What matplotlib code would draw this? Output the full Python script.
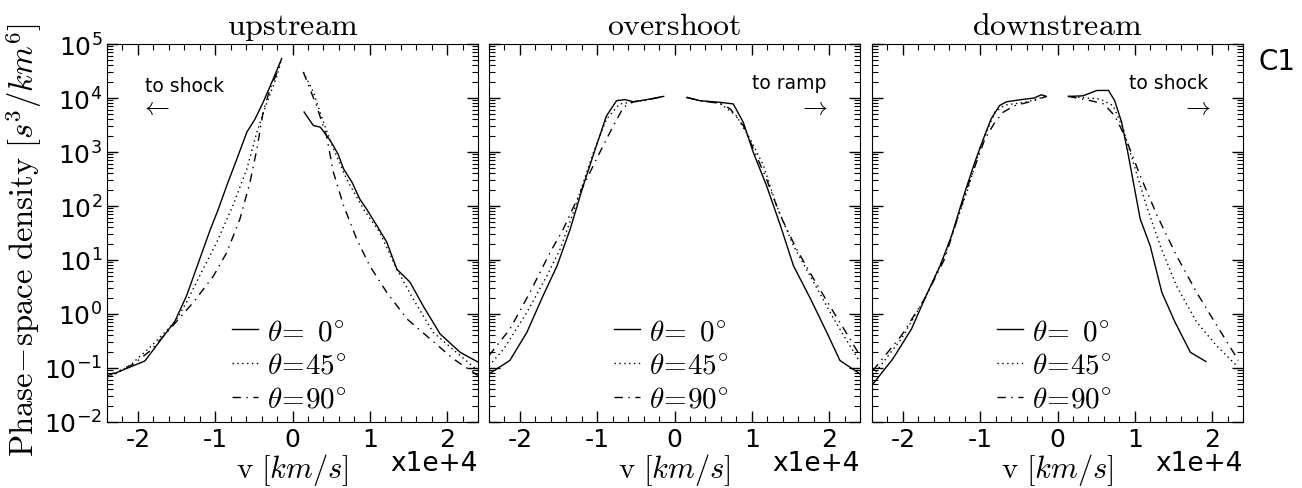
import matplotlib
matplotlib.use('Agg')
import matplotlib.pyplot as plt
import numpy as np
from matplotlib.font_manager import FontProperties
from matplotlib.ticker import MultipleLocator, LogLocator, NullFormatter

# velocity in units of 1e4 km/s, density as log10 values
# --- upstream ---
up_v0 = [-2.3, -1.91, -1.52, -1.37, -1.20, -1.07, -0.96, -0.85, -0.72, -0.59, -0.485, -0.38, -0.25, -0.14,
         None,
         0.15, 0.27, 0.36, 0.49, 0.59, 0.66, 0.77, 0.87, 0.96, 1.09, 1.22, 1.35, 1.52, 1.69, 1.91, 2.17, 2.40]
up_f0 = [-1.1, -0.87, -0.13, 0.34, 1.02, 1.54, 1.94, 2.38, 2.87, 3.37, 3.61, 3.92, 4.35, 4.73,
         None,
         3.74, 3.49, 3.46, 3.21, 2.96, 2.69, 2.44, 2.13, 1.94, 1.64, 1.33, 0.83, 0.59, 0.15, -0.37, -0.71, -0.89]
up_v45 = [-2.4, -2.1, -1.84, -1.52, -1.37, -1.20, -0.98, -0.77, -0.59, -0.46, -0.33, -0.20, -0.14,
          None,
          0.14, 0.27, 0.40, 0.53, 0.70, 0.92, 1.13, 1.35, 1.56, 1.82, 2.12, 2.40]
up_f45 = [-1.2, -0.95, -0.61, -0.15, 0.22, 0.71, 1.33, 2.01, 2.69, 3.37, 3.92, 4.41, 4.73,
          None,
          4.48, 4.11, 3.55, 3.06, 2.50, 1.94, 1.51, 0.83, 0.28, -0.34, -0.71, -1.05]
up_v90 = [-2.4, -2.06, -1.84, -1.55, -1.28, -1.02, -0.85, -0.68, -0.55, -0.46, -0.38, -0.29, -0.16,
          None,
          0.14, 0.31, 0.44, 0.53, 0.66, 0.83, 1.00, 1.22, 1.48, 1.78, 2.08, 2.40]
up_f90 = [-1.15, -0.93, -0.68, -0.22, 0.22, 0.71, 1.14, 1.76, 2.44, 3.06, 3.74, 4.17, 4.60,
          None,
          4.48, 3.86, 3.30, 2.62, 2.01, 1.39, 0.89, 0.40, -0.09, -0.46, -0.83, -1.14]

# --- overshoot ---
ov_v0 = [-2.4, -2.13, -1.91, -1.70, -1.52, -1.35, -1.18, -1.01, -0.88, -0.75, -0.64, -0.53, -0.36, -0.14,
         None,
         0.16, 0.33, 0.59, 0.76, 0.89, 1.02, 1.19, 1.37, 1.54, 1.76, 1.97, 2.14, 2.40]
ov_f0 = [-1.11, -0.86, -0.34, 0.34, 0.89, 1.57, 2.38, 3.12, 3.67, 3.95, 3.97, 3.93, 3.97, 4.03,
         None,
         4.01, 3.95, 3.92, 3.89, 3.55, 2.99, 2.38, 1.64, 0.89, 0.28, -0.34, -0.86, -1.11]
ov_v45 = [-2.4, -2.21, -1.91, -1.65, -1.48, -1.31, -1.05, -0.88, -0.71, -0.53, -0.36, -0.14,
          None,
          0.16, 0.33, 0.59, 0.80, 0.98, 1.15, 1.32, 1.54, 1.80, 2.06, 2.27, 2.40]
ov_f45 = [-0.96, -0.65, 0.03, 0.71, 1.20, 1.88, 2.99, 3.61, 3.89, 3.93, 3.96, 4.03,
          None,
          4.01, 3.95, 3.90, 3.67, 3.24, 2.75, 2.01, 1.26, 0.59, -0.09, -0.59, -0.89]
ov_v90 = [-2.4, -2.13, -1.87, -1.61, -1.44, -1.22, -1.01, -0.79, -0.66, -0.53, -0.36, -0.14,
          None,
          0.16, 0.33, 0.59, 0.72, 0.89, 1.02, 1.19, 1.37, 1.58, 1.80, 2.06, 2.27, 2.40]
ov_f90 = [-0.77, -0.28, 0.40, 1.14, 1.57, 2.25, 2.87, 3.49, 3.83, 3.93, 3.96, 4.03,
          None,
          4.01, 3.95, 3.90, 3.80, 3.49, 3.06, 2.50, 1.82, 1.20, 0.65, 0.03, -0.46, -0.77]

# --- downstream ---
dn_v0 = [-2.39, -2.13, -1.89, -1.70, -1.52, -1.37, -1.20, -1.07, -0.96, -0.86, -0.75, -0.66, -0.47, -0.30, -0.21, -0.145,
         None,
         0.14, 0.33, 0.51, 0.66, 0.74, 0.83, 0.91, 1.07, 1.20, 1.35, 1.52, 1.72, 1.92]
dn_f0 = [-1.3, -0.83, -0.28, 0.34, 0.89, 1.45, 2.25, 2.81, 3.24, 3.61, 3.86, 3.93, 3.97, 4.00, 4.06, 4.03,
         None,
         4.03, 4.04, 4.14, 4.14, 3.95, 3.55, 2.99, 1.76, 1.26, 0.40, -0.15, -0.71, -0.88]
dn_v45 = [-2.39, -2.02, -1.72, -1.46, -1.16, -0.99, -0.81, -0.68, -0.42, -0.145,
          None,
          0.14, 0.55, 0.72, 0.85, 0.98, 1.15, 1.33, 1.54, 1.80, 2.06, 2.32]
dn_f45 = [-1.14, -0.46, 0.28, 1.08, 2.31, 3.12, 3.74, 3.87, 3.92, 4.03,
          None,
          4.03, 3.98, 3.86, 3.43, 2.81, 2.01, 1.26, 0.52, -0.15, -0.59, -0.96]
dn_v90 = [-2.39, -2.02, -1.72, -1.46, -1.16, -0.94, -0.81, -0.70, -0.55, -0.30, -0.145,
          None,
          0.14, 0.43, 0.60, 0.74, 0.87, 1.07, 1.29, 1.54, 1.80, 2.06, 2.34]
dn_f90 = [-1.05, -0.40, 0.28, 1.02, 2.37, 3.24, 3.55, 3.74, 3.86, 3.95, 4.03,
          None,
          4.03, 3.95, 3.89, 3.67, 3.30, 2.56, 1.82, 1.08, 0.40, -0.21, -0.86]

titles = ['upstream', 'overshoot', 'downstream']
labels = [r'$\theta\!=\ 0^{\circ}$', r'$\theta\!=\!45^{\circ}$', r'$\theta\!=\!90^{\circ}$']
notes = [('to shock', r'$\leftarrow$'), ('to ramp', r'$\rightarrow$'), ('to shock', r'$\rightarrow$')]


def arr(v):
    return np.array([np.nan if a is None else a for a in v], dtype=float)


panels = [
    [(up_v0, up_f0), (up_v45, up_f45), (up_v90, up_f90)],
    [(ov_v0, ov_f0), (ov_v45, ov_f45), (ov_v90, ov_f90)],
    [(dn_v0, dn_f0), (dn_v45, dn_f45), (dn_v90, dn_f90)],
]
styles = ['-', (0, (1, 2.5)), (0, (6, 4, 1, 4))]

fig = plt.figure(figsize=(13.02, 4.89), dpi=100)
lefts = [107, 489, 872]
W, H = 1302., 489.
axes = []
for i, l in enumerate(lefts):
    ax = fig.add_axes([l / W, (489 - 423) / H, 371 / W, 378 / H])
    axes.append(ax)
    for (v, f), ls in zip(panels[i], styles):
        ax.plot(arr(v), 10 ** arr(f), color='black', lw=1.0, linestyle=ls)
    ax.set_yscale('log')
    ax.set_xlim(-2.4, 2.4)
    ax.set_ylim(1e-2, 1e5)
    ax.xaxis.set_major_locator(MultipleLocator(1))
    ax.xaxis.set_minor_locator(MultipleLocator(0.2))
    ax.yaxis.set_major_locator(LogLocator(base=10, numticks=20))
    ax.yaxis.set_minor_locator(LogLocator(base=10, subs=np.arange(2, 10), numticks=20))
    ax.yaxis.set_minor_formatter(NullFormatter())
    ax.tick_params(which='both', direction='in', top=True, right=True, labelsize=18)
    ax.tick_params(which='major', length=8, width=1)
    ax.tick_params(which='minor', length=4, width=0.8)
    ax.xaxis.set_major_formatter(plt.FuncFormatter(lambda x, p: '%d' % round(x)))
    if i > 0:
        ax.set_yticklabels([])
    ax.set_title('$\\mathrm{%s}$' % titles[i], math_fontfamily='cm', fontsize=23, pad=7)
    ax.set_xlabel(r'$\mathrm{v}\ [km/s]$', math_fontfamily='cm', fontsize=22, labelpad=0)
    ax.text(1.0, -0.075, 'x1e+4', transform=ax.transAxes, ha='right', va='top', fontsize=19)
    ax.legend(labels, loc='lower center', bbox_to_anchor=(0.49, -0.045), frameon=False,
              handlelength=0.9, handletextpad=0.3, labelspacing=0.2,
              prop=FontProperties(size=21, math_fontfamily='cm'))
    note, arrow = notes[i]
    if i == 0:
        ax.text(0.102, 0.889, note, transform=ax.transAxes, ha='left', va='center', fontsize=13.5)
        ax.text(0.13, 0.836, arrow, transform=ax.transAxes, ha='center', va='center', fontsize=18,
                math_fontfamily='cm')
    else:
        ax.text(0.81 if i == 1 else 0.80, 0.897, note, transform=ax.transAxes, ha='center', va='center',
                fontsize=13.5)
        ax.text(0.872, 0.836, arrow, transform=ax.transAxes, ha='center', va='center', fontsize=18,
                math_fontfamily='cm')

axes[0].set_ylabel(r'$\mathrm{Phase\!-\!space\ density}\ [s^3/km^6]$', math_fontfamily='cm', fontsize=23.5)
axes[0].yaxis.set_label_coords(-0.17, 0.485)
fig.text(1277 / W, 1 - 62 / H, 'C1', ha='center', va='center', fontsize=20)

fig.savefig('out.png', dpi=100)
